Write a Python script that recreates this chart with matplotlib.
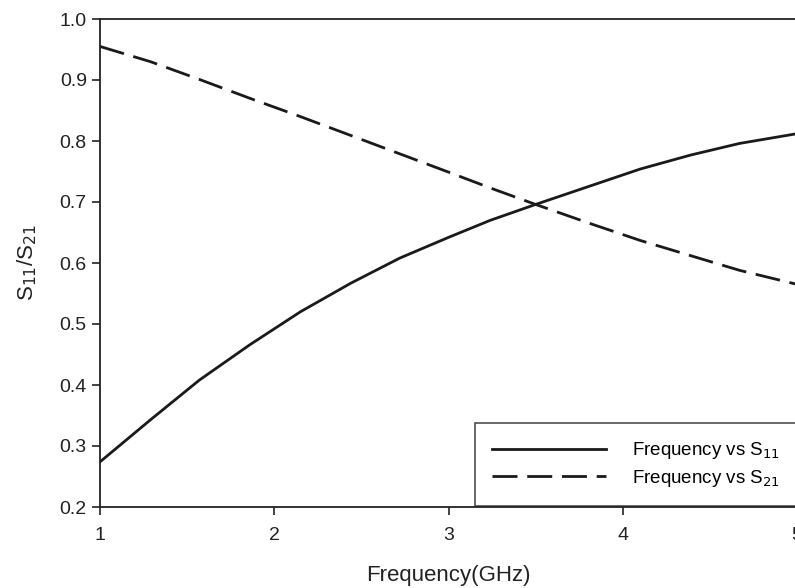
import matplotlib
matplotlib.use('Agg')
import matplotlib.pyplot as plt

plt.rcParams['font.family'] = ['Liberation Sans', 'DejaVu Sans']

# frequency (GHz)
freq = [1.0, 1.29, 1.57, 1.86, 2.15, 2.44, 2.72, 3.0, 3.24, 3.5,
        3.81, 4.1, 4.39, 4.67, 5.0]
s11 = [0.274, 0.343, 0.408, 0.466, 0.520, 0.567, 0.608, 0.642, 0.670, 0.696,
       0.726, 0.754, 0.777, 0.796, 0.812]
s21 = [0.955, 0.930, 0.901, 0.870, 0.840, 0.809, 0.779, 0.749, 0.723, 0.696,
       0.665, 0.637, 0.612, 0.588, 0.565]

xticks = [1, 2, 3, 4, 5]
yticks = [0.2, 0.3, 0.4, 0.5, 0.6, 0.7, 0.8, 0.9, 1.0]

fig = plt.figure(figsize=(7.95, 5.88), dpi=100, facecolor='white')
ax = fig.add_axes([100/795., 1-507/588., 697/795., 488/588.])

ax.plot(freq, s11, color='#1a1a1a', lw=2.0, label='Frequency vs S$_{11}$')
ax.plot(freq, s21, color='#1a1a1a', lw=2.0, dashes=(9, 3.5),
        label='Frequency vs S$_{21}$')

ax.set_xlim(1, 5)
ax.set_ylim(0.2, 1.0)
ax.set_xticks(xticks)
ax.set_xticklabels([str(t) for t in xticks])
ax.set_yticks(yticks)
ax.set_yticklabels(['%.1f' % t for t in yticks])
ax.tick_params(direction='out', length=5.5, width=1.2, labelsize=14,
               colors='#222222')
ax.tick_params(axis='x', pad=9)
ax.tick_params(axis='y', pad=4)
for s in ax.spines.values():
    s.set_linewidth(1.3)
    s.set_color('#222222')

ax.set_xlabel('Frequency(GHz)', fontsize=16, color='#222222', labelpad=15)
ax.set_ylabel('S$_{11}$/S$_{21}$', fontsize=16, color='#222222', labelpad=15)

leg = ax.legend(loc='lower right', handlelength=6.1, fontsize=13.5,
                frameon=True, fancybox=False, borderaxespad=0,
                bbox_to_anchor=(1.0, 0.003), borderpad=0.9, handletextpad=1.4,
                labelspacing=0.35)
leg.get_frame().set_edgecolor('#222222')
leg.get_frame().set_linewidth(1.2)

fig.savefig('out.png', dpi=100, facecolor='white')
